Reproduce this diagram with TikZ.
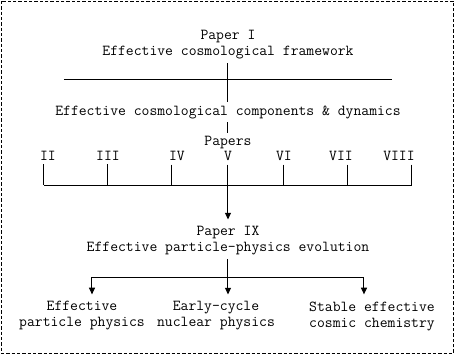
\documentclass[tikz,border=0pt]{standalone}
\usepackage{tikz}
\usetikzlibrary{arrows.meta}

\begin{document}
\begin{tikzpicture}[x=0.75pt,y=-0.75pt,line width=0.75pt,
  lbl/.style={inner sep=2.5pt,align=center,font=\ttfamily\fontsize{11.43}{12}\selectfont},
  tip/.style={-{Triangle[width=4.5pt,length=5pt]},shorten >=2.5pt}]
\useasboundingbox (0,0) rectangle (455,355);
\draw[dash pattern=on 2.5pt off 1.5pt] (1,1) rectangle (454,353);
% top: Paper I and the components
\node[lbl] (pI) at (228,45) {Paper I\\Effective cosmological framework};
\node[lbl] (comp) at (228,112) {Effective cosmological components \& dynamics};
\coordinate (barL) at (64,79);
\coordinate (barR) at (392,79);
\draw (barL) -- (barR);
\draw (pI) -- (comp);
\node[lbl] (papers) at (228,143) {Papers};
\draw (comp) -- (papers);
% the papers II--VIII
\node[lbl] (pII) at (48,156) {II};
\node[lbl] (pIII) at (108,156) {III};
\node[lbl] (pIV) at (177,156) {IV};
\node[lbl] (pV) at (228,156) {V};
\node[lbl] (pVI) at (284,156) {VI};
\node[lbl] (pVII) at (341,156) {VII};
\node[lbl] (pVIII) at (399,156) {VIII};
\coordinate (busL) at (44,185);
\coordinate (busR) at (412,185);
\draw (busL) -- (busR);
\draw (pII.south -| busL) -- (busL);
\draw (pIII.south -| 108,0) -- (busL -| 108,0);
\draw (pIV.south -| 172,0) -- (busL -| 172,0);
\draw (pV.south) -- (busL -| pV);
\draw (pVI.south -| 284,0) -- (busL -| 284,0);
\draw (pVII.south -| 348,0) -- (busL -| 348,0);
\draw (pVIII.south -| busR) -- (busR);
% Paper IX and its branches
\node[lbl] (pIX) at (228,241) {Paper IX\\Effective particle-physics evolution};
\draw[tip] (busL -| pV) -- (pIX);
\coordinate (brL) at (92,277);
\coordinate (brM) at (228,277);
\coordinate (brR) at (364,277);
\draw (pIX) -- (brM);
\draw (brL) -- (brR);
\node[lbl] (partphys) at (82,316) {Effective\\particle physics};
\node[lbl] (nucphys) at (216,316) {Early-cycle\\nuclear physics};
\node[lbl] (chem) at (372,316) {Stable effective\\cosmic chemistry};
\draw[tip] (brL) -- (brL |- partphys.north);
\draw[tip] (brM) -- (brM |- nucphys.north);
\draw[tip] (brR) -- (brR |- chem.north);
\end{tikzpicture}
\end{document}
